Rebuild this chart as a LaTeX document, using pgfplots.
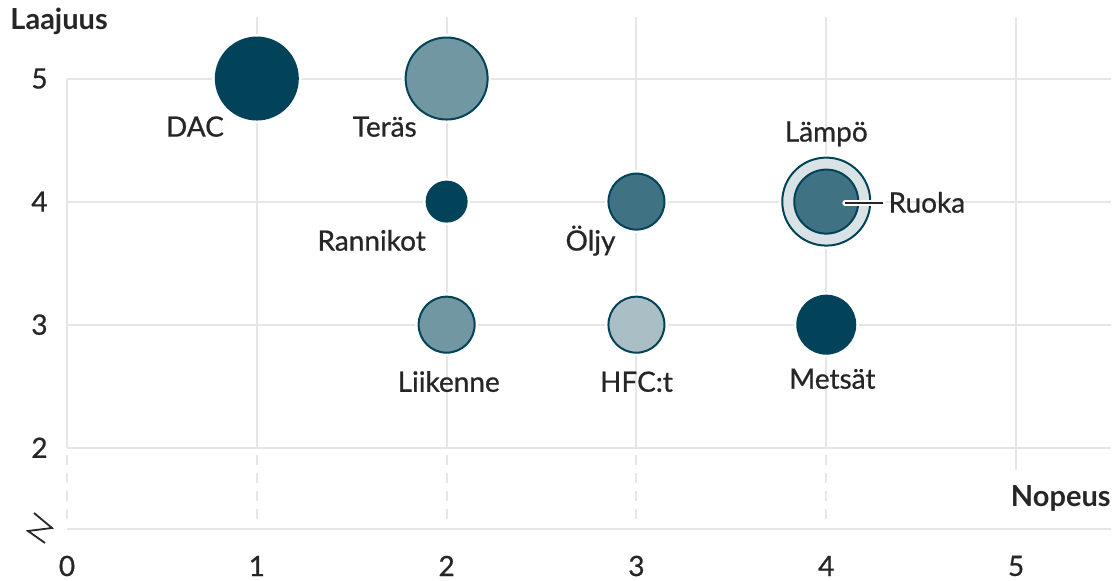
\documentclass[border=0pt]{standalone}
\usepackage{fontspec}
\setmainfont{Lato}[UprightFeatures={FakeBold=0.7}]
\usepackage{pgfplots}
\pgfplotsset{compat=1.18}

\definecolor{dk}{HTML}{03435A}
\definecolor{md}{HTML}{7097A2}
\definecolor{tl}{HTML}{3F7383}
\definecolor{lt}{HTML}{A9BFC5}
\definecolor{pl}{HTML}{D9E3E6}
\definecolor{gr}{HTML}{E6E6E6}
\definecolor{tx}{HTML}{262626}

\tikzset{lbl/.style={font=\fontsize{14}{16}\selectfont, text=tx, inner sep=0pt, anchor=base}}

% one bubble: x, y, radius (pt), fill, with a white halo behind it
\newcommand{\bubble}[4]{%
  \addplot[only marks, mark=*, mark size=#3pt+1.6pt,
    mark options={fill=white, draw=white, line width=0pt}] coordinates {(#1,#2)};
  \addplot[only marks, mark=*, mark size=#3pt,
    mark options={fill=#4, draw=dk, line width=1pt}] coordinates {(#1,#2)};
}

\begin{document}
\begin{tikzpicture}
\begin{axis}[
    scale only axis, width=522pt, height=256pt,
    xmin=0, xmax=5.5, ymin=1.34, ymax=5.5,
    axis line style={draw=none},
    major tick length=0pt,
    xtick={0,...,5}, ytick={2,...,5},
    tick label style={font=\fontsize{14}{16}\selectfont, text=tx, inner sep=0pt},
    /pgf/number format/assume math mode=true,
    xticklabel style={anchor=center, yshift=-18.5pt},
    yticklabel style={anchor=east, xshift=-9.5pt},
    clip=false,
]
% grid
\pgfplotsinvokeforeach{2,3,4,5}{
  \draw[gr, line width=1pt] (axis cs:0,#1) -- (axis cs:5.5,#1);
}
\draw[gr, line width=1pt] (axis cs:0,1.34) -- (axis cs:5.5,1.34);
\draw[gr, line width=1pt] (axis cs:0,5) -- (axis cs:0,2);
\pgfplotsinvokeforeach{1,2,3,4,5}{
  \draw[gr, line width=1pt] (axis cs:#1,5.5) -- (axis cs:#1,2);
}
\pgfplotsinvokeforeach{0,1,2,3,4}{
  \draw[gr, line width=1pt, dash pattern=on 5pt off 4pt, dash phase=-3.5pt]
    (axis cs:#1,2) -- (axis cs:#1,1.40);
}
\draw[gr, line width=1pt] (axis cs:5,2) -- (axis cs:5,1.82);

% bubbles
\bubble{1}{5}{20.5}{dk}
\bubble{2}{5}{20.5}{md}
\bubble{2}{4}{10}{dk}
\bubble{3}{4}{14}{tl}
\bubble{4}{4}{22}{pl}
\addplot[only marks, mark=*, mark size=16pt,
  mark options={fill=tl, draw=dk, line width=1pt}] coordinates {(4,4)};
\bubble{2}{3}{14}{md}
\bubble{3}{3}{14}{lt}
\bubble{4}{3}{14.5}{dk}

% labels
\node[lbl] at (axis cs:0.674,4.528) {DAC};
\node[lbl] at (axis cs:1.674,4.528) {Teräs};
\node[lbl] at (axis cs:1.605,3.602) {Rannikot};
\node[lbl] at (axis cs:2.758,3.602) {Öljy};
\node[lbl] at (axis cs:4,4.488) {Lämpö};
\coordinate (ls) at (axis cs:4.1,3.99);
\coordinate (le) at (axis cs:4.3,3.99);
\node[lbl, anchor=base west] at (axis cs:4.326,3.911) {Ruoka};
\node[lbl] at (axis cs:2.011,2.455) {Liikenne};
\node[lbl] at (axis cs:3.0,2.455) {HFC:t};
\node[lbl] at (axis cs:4.032,2.480) {Metsät};

\node[lbl, font=\fontsize{14.5}{16}\selectfont\bfseries, anchor=base west] at (axis cs:-0.3,5.398) {Laajuus};
\node[lbl, font=\fontsize{14.5}{16}\selectfont\bfseries, anchor=base east] at (axis cs:5.5,1.52) {Nopeus};
\end{axis}
% Ruoka leader line
\draw[white, line width=3pt, line cap=round] (ls) -- (le);
\draw[tx, line width=1pt] (ls) -- (le);
% axis break mark
\draw[tx, line width=0.9pt] (-16.5pt,8pt) -- (-7.5pt,0.5pt) -- (-19.5pt,-1pt) -- (-11pt,-7pt);
\pgfresetboundingbox
\path (-33.5pt,-26pt) rectangle (524pt,264.5pt);
\end{tikzpicture}
\end{document}
